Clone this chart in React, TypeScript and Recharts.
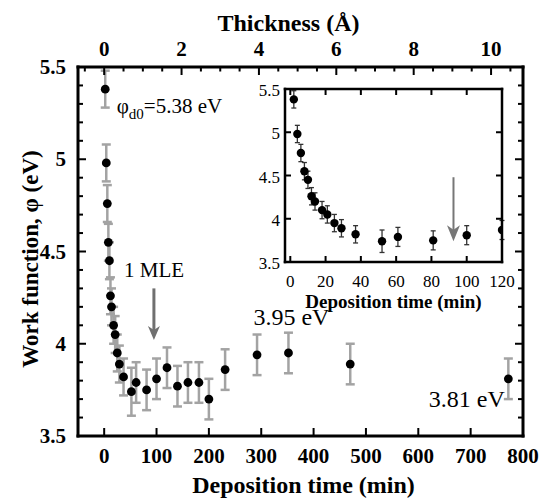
import { ScatterChart, Scatter, XAxis, YAxis, ErrorBar, ReferenceLine, ReferenceDot } from "recharts"

// deposition time (min), work function (eV), error (eV)
const depositionMin = [2, 4, 6, 8, 10, 12, 14, 18, 21, 25, 29, 37, 52, 61, 81, 100, 120, 140, 160, 181, 200, 231, 292, 352, 470, 772]
const workFunction = [5.38, 4.98, 4.76, 4.55, 4.45, 4.26, 4.2, 4.1, 4.05, 3.95, 3.89, 3.82, 3.74, 3.79, 3.75, 3.81, 3.87, 3.77, 3.79, 3.79, 3.7, 3.86, 3.94, 3.95, 3.89, 3.81]
const phiError = [0.1, 0.1, 0.1, 0.1, 0.1, 0.1, 0.1, 0.1, 0.1, 0.1, 0.1, 0.1, 0.13, 0.11, 0.11, 0.11, 0.11, 0.11, 0.11, 0.11, 0.11, 0.11, 0.11, 0.11, 0.11, 0.11]

const minTicks = [0, 100, 200, 300, 400, 500, 600, 700, 800]
const thicknessTicks = [-0.5, 0, 0.5, 1, 1.5, 2, 2.5, 3, 3.5, 4, 4.5, 5, 5.5, 6, 6.5, 7, 7.5, 8, 8.5, 9, 9.5, 10, 10.5]
const phiTicks = [3.5, 3.6, 3.7, 3.8, 3.9, 4, 4.1, 4.2, 4.3, 4.4, 4.5, 4.6, 4.7, 4.8, 4.9, 5, 5.1, 5.2, 5.3, 5.4, 5.5]
const insetMinTicks = [0, 20, 40, 60, 80, 100, 120]
const insetPhiTicks = [3.5, 4, 4.5, 5, 5.5]

// thickness (Å) = deposition time / MIN_PER_ANGSTROM
const MIN_PER_ANGSTROM = 73.9
const thicknessTickPos = thicknessTicks.map((a) => a * MIN_PER_ANGSTROM)

const data = depositionMin.map((t, i) => ({ t, phi: workFunction[i], err: phiError[i] }))
const insetData = data.filter((d) => d.t <= 120)

const FONT = "'Liberation Serif', 'Times New Roman', serif"
const frame = { stroke: "#000", strokeWidth: 3, strokeLinecap: "square" as const }
const insetFrame = { stroke: "#000", strokeWidth: 2.5, strokeLinecap: "square" as const }

const isMajorPhi = (v: number) => Math.abs(v * 2 - Math.round(v * 2)) < 1e-6

function BottomTick({ x, y, payload }: any) {
  return (
    <g>
      <line x1={x} x2={x} y1={y} y2={y - 8} stroke="#000" strokeWidth={2} />
      <text x={x} y={y + 27} textAnchor="middle" fontFamily={FONT} fontWeight="bold" fontSize={21} fill="#000">
        {payload.value}
      </text>
    </g>
  )
}

function TopTick({ x, y, payload }: any) {
  const a = Math.round((payload.value / MIN_PER_ANGSTROM) * 2) / 2
  const major = Number.isInteger(a) && a % 2 === 0
  return (
    <g>
      <line x1={x} x2={x} y1={y} y2={y + (major ? 8 : 4.5)} stroke="#000" strokeWidth={2} />
      {major && (
        <text x={x} y={y - 11} textAnchor="middle" fontFamily={FONT} fontWeight="bold" fontSize={21} fill="#000">
          {a}
        </text>
      )}
    </g>
  )
}

function LeftTick({ x, y, payload }: any) {
  const major = isMajorPhi(payload.value)
  return (
    <g>
      <line x1={x} x2={x + (major ? 8 : 5)} y1={y} y2={y} stroke="#000" strokeWidth={2} />
      {major && (
        <text x={x - 12} y={y + 7} textAnchor="end" fontFamily={FONT} fontWeight="bold" fontSize={21} fill="#000">
          {payload.value}
        </text>
      )}
    </g>
  )
}

function RightTick({ x, y, payload }: any) {
  const major = isMajorPhi(payload.value)
  return <line x1={x} x2={x - (major ? 8 : 5)} y1={y} y2={y} stroke="#000" strokeWidth={2} />
}

function InsetBottomTick({ x, y, payload }: any) {
  return (
    <g>
      <line x1={x} x2={x} y1={y} y2={y - 6} stroke="#000" strokeWidth={2} />
      <text x={x} y={y + 25} textAnchor="middle" fontFamily={FONT} fontSize={17} fill="#000">
        {payload.value}
      </text>
    </g>
  )
}

function InsetTopTick({ x, y }: any) {
  return <line x1={x} x2={x} y1={y} y2={y + 6} stroke="#000" strokeWidth={2} />
}

function InsetLeftTick({ x, y, payload }: any) {
  return (
    <g>
      <line x1={x} x2={x + 6} y1={y} y2={y} stroke="#000" strokeWidth={2} />
      <text x={x - 5} y={y + 7} textAnchor="end" fontFamily={FONT} fontSize={17} fill="#000">
        {payload.value}
      </text>
    </g>
  )
}

function InsetRightTick({ x, y }: any) {
  return <line x1={x} x2={x - 6} y1={y} y2={y} stroke="#000" strokeWidth={2} />
}

const dot = (r: number) => (p: any) => <circle cx={p.cx} cy={p.cy} r={r} fill="#000" />

const arrowHead = (w: number, h: number, color: string) => (p: any) => (
  <path
    d={`M${p.cx},${p.cy} L${p.cx - w / 2},${p.cy - h} L${p.cx},${p.cy - h * 0.72} L${p.cx + w / 2},${p.cy - h} Z`}
    fill={color}
  />
)

const note = (text: string, size: number) => (p: any) => (
  <text x={p.cx} y={p.cy} fontFamily={FONT} fontSize={size} fill="#000">
    {text}
  </text>
)

const phiNote = (p: any) => (
  <text x={p.cx} y={p.cy} fontFamily={FONT} fontSize={21} fill="#000">
    <tspan>φ</tspan>
    <tspan dy={6} fontSize={15}>d0</tspan>
    <tspan dy={-6}>=5.38 eV</tspan>
  </text>
)

function MainChart() {
  return (
    <ScatterChart width={541} height={499} margin={{ top: 27, right: 17, bottom: 13, left: 8 }}>
      <XAxis
        dataKey="t"
        type="number"
        domain={[-50, 800]}
        allowDataOverflow
        ticks={minTicks}
        interval={0}
        height={50}
        tickSize={0}
        tickMargin={0}
        tickLine={false}
        axisLine={frame}
        tick={<BottomTick />}
        label={(p: any) => (
          <text
            x={p.viewBox.x + p.viewBox.width / 2 + 3}
            y={p.viewBox.y + 57}
            textAnchor="middle"
            fontFamily={FONT}
            fontWeight="bold"
            fontSize={24}
            fill="#000"
          >
            Deposition time (min)
          </text>
        )}
      />
      <XAxis
        xAxisId="top"
        orientation="top"
        dataKey="t"
        type="number"
        domain={[-50, 800]}
        allowDataOverflow
        ticks={thicknessTickPos}
        interval={0}
        height={40}
        tickSize={0}
        tickMargin={0}
        tickLine={false}
        axisLine={frame}
        tick={<TopTick />}
        label={(p: any) => (
          <text
            x={p.viewBox.x + p.viewBox.width / 2 - 12}
            y={p.viewBox.y + 4}
            textAnchor="middle"
            fontFamily={FONT}
            fontWeight="bold"
            fontSize={24}
            fill="#000"
          >
            Thickness (Å)
          </text>
        )}
      />
      <YAxis
        dataKey="phi"
        type="number"
        domain={[3.5, 5.5]}
        allowDataOverflow
        ticks={phiTicks}
        interval={0}
        width={70}
        tickSize={0}
        tickMargin={0}
        tickLine={false}
        axisLine={frame}
        tick={<LeftTick />}
        label={() => (
          <text
            x={38}
            y={259}
            transform="rotate(-90, 38, 259)"
            textAnchor="middle"
            fontFamily={FONT}
            fontWeight="bold"
            fontSize={23}
            fill="#000"
          >
            Work function, φ (eV)
          </text>
        )}
      />
      <YAxis
        yAxisId="right"
        orientation="right"
        type="number"
        domain={[3.5, 5.5]}
        allowDataOverflow
        ticks={phiTicks}
        interval={0}
        width={1}
        tickSize={0}
        tickMargin={0}
        tickLine={false}
        axisLine={frame}
        tick={<RightTick />}
      />
      <ReferenceLine segment={[{ x: 95, y: 4.3 }, { x: 95, y: 4.07 }]} stroke="#707070" strokeWidth={3} />
      <ReferenceDot x={95} y={4.02} r={0} shape={arrowHead(12, 14, "#707070")} />
      <ReferenceDot x={24} y={5.25} r={0} shape={phiNote} />
      <ReferenceDot x={38} y={4.36} r={0} shape={note("1 MLE", 21)} />
      <ReferenceDot x={285} y={4.1} r={0} shape={note("3.95 eV", 24)} />
      <ReferenceDot x={620} y={3.655} r={0} shape={note("3.81 eV", 24)} />
      <Scatter data={data} isAnimationActive={false} shape={dot(4.4)}>
        <ErrorBar dataKey="err" direction="y" width={4.5} stroke="#a3a3a3" strokeWidth={2.5} isAnimationActive={false} />
      </Scatter>
    </ScatterChart>
  )
}

function InsetChart() {
  return (
    <ScatterChart width={280} height={240} margin={{ top: 13, right: 27, bottom: 0, left: 0 }}>
      <XAxis
        dataKey="t"
        type="number"
        domain={[-3, 120]}
        allowDataOverflow
        ticks={insetMinTicks}
        interval={0}
        height={53}
        tickSize={0}
        tickMargin={0}
        tickLine={false}
        axisLine={insetFrame}
        tick={<InsetBottomTick />}
        label={(p: any) => (
          <text
            x={p.viewBox.x + p.viewBox.width / 2}
            y={p.viewBox.y + 46}
            textAnchor="middle"
            fontFamily={FONT}
            fontWeight="bold"
            fontSize={19}
            fill="#000"
          >
            Deposition time (min)
          </text>
        )}
      />
      <XAxis
        xAxisId="top"
        orientation="top"
        dataKey="t"
        type="number"
        domain={[-3, 120]}
        allowDataOverflow
        ticks={insetMinTicks}
        interval={0}
        height={1}
        tickSize={0}
        tickMargin={0}
        tickLine={false}
        axisLine={insetFrame}
        tick={<InsetTopTick />}
      />
      <YAxis
        dataKey="phi"
        type="number"
        domain={[3.5, 5.5]}
        allowDataOverflow
        ticks={insetPhiTicks}
        interval={0}
        width={35}
        tickSize={0}
        tickMargin={0}
        tickLine={false}
        axisLine={insetFrame}
        tick={<InsetLeftTick />}
      />
      <YAxis
        yAxisId="right"
        orientation="right"
        dataKey="phi"
        type="number"
        domain={[3.5, 5.5]}
        allowDataOverflow
        ticks={insetPhiTicks}
        interval={0}
        width={1}
        tickSize={0}
        tickMargin={0}
        tickLine={false}
        axisLine={insetFrame}
        tick={<InsetRightTick />}
      />
      <ReferenceLine segment={[{ x: 92.5, y: 4.48 }, { x: 92.5, y: 3.85 }]} stroke="#777" strokeWidth={2} />
      <ReferenceDot x={92.5} y={3.74} r={0} shape={arrowHead(13, 16, "#777")} />
      <Scatter data={insetData} isAnimationActive={false} shape={dot(4.2)}>
        <ErrorBar dataKey="err" direction="y" width={2.5} stroke="#333" strokeWidth={1.3} isAnimationActive={false} />
      </Scatter>
    </ScatterChart>
  )
}

export default function App() {
  return (
    <div style={{ position: "absolute", left: 0, top: 0, width: 541, height: 499, background: "#fff" }}>
      <MainChart />
      <div style={{ position: "absolute", left: 250, top: 75 }}>
        <InsetChart />
      </div>
    </div>
  )
}
